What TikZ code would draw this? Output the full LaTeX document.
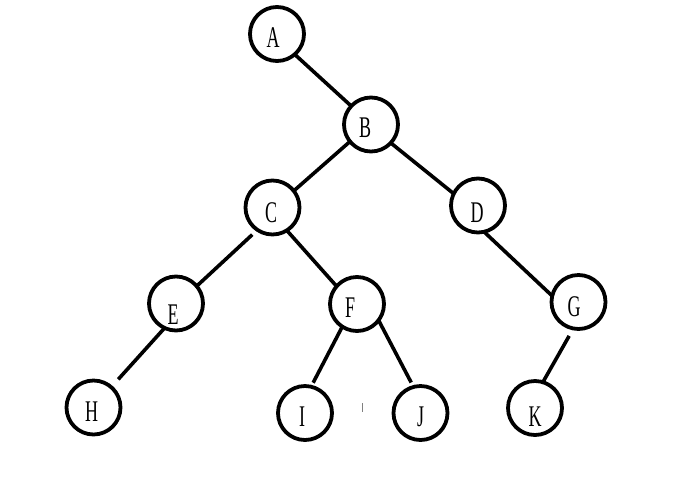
\documentclass[tikz,border=0pt]{standalone}
\usepackage{fontspec}
\setmainfont{Liberation Serif}
\newcommand{\lettr}[1]{\scalebox{0.6}[1]{\fontsize{30}{30}\selectfont #1}}
\tikzset{
  vertex/.style={circle, draw=black, line width=3.8pt, minimum size=54pt, inner sep=0pt, outer sep=0pt, fill=white},
  lbl/.style={inner sep=0pt, text=black},
  edge/.style={draw=black, line width=3.6pt}
}
\begin{document}
\begin{tikzpicture}[x=1pt, y=-1pt]
\useasboundingbox[fill=white] (0,0) rectangle (692,477);
% edges first (behind)
\coordinate (pA) at (277,34);
\coordinate (pB) at (371,124.5);
\coordinate (pC) at (272.5,207.5);
\coordinate (pD) at (478,205.5);
\coordinate (pE) at (176,303.5);
\coordinate (pF) at (357,304);
\coordinate (pG) at (578.5,302);
\coordinate (pH) at (93.5,407.5);
\coordinate (pI) at (305,413);
\coordinate (pJ) at (420.5,413);
\coordinate (pK) at (535,408);

\node[vertex, label={[lbl, xshift=-4pt, yshift=-4pt]center:\lettr{A}}] (A) at (pA) {};
\node[vertex, label={[lbl, xshift=-6pt, yshift=-3.5pt]center:\lettr{B}}] (B) at (pB) {};
\node[vertex, label={[lbl, xshift=-1.5pt, yshift=-5.5pt]center:\lettr{C}}] (C) at (pC) {};
\node[vertex, label={[lbl, xshift=-1pt, yshift=-7.5pt]center:\lettr{D}}] (D) at (pD) {};
\node[vertex, label={[lbl, xshift=-3pt, yshift=-11.5pt]center:\lettr{E}}] (E) at (pE) {};
\node[vertex, label={[lbl, xshift=-7pt, yshift=-4pt]center:\lettr{F}}] (F) at (pF) {};
\node[vertex, label={[lbl, xshift=-4.5pt, yshift=-5pt]center:\lettr{G}}] (G) at (pG) {};
\node[vertex, label={[lbl, xshift=-2pt, yshift=-4pt]center:\lettr{H}}] (H) at (pH) {};
\node[vertex, label={[lbl, xshift=-3pt, yshift=-4pt]center:\lettr{I}}] (I) at (pI) {};
\node[vertex, label={[lbl, xshift=0pt, yshift=-4pt]center:\lettr{J}}] (J) at (pJ) {};
\node[vertex, label={[lbl, xshift=0pt, yshift=-8.7pt]center:\lettr{K}}] (K) at (pK) {};

\draw[edge] (A.311) -- (B.137);
\draw[edge] (B.219) -- (C.38);
\draw[edge] (B.317) -- (D.154);
\draw[edge, shorten <=7pt] (C.236) -- (E.40);
\draw[edge] (C.302) -- (F.139);
\draw[edge] (D.283) -- (G.167);
\draw[edge, shorten >=10.5pt] (E.245) -- (H.49);
\draw[edge, shorten >=4.5pt] (F.237) -- (I.77);
\draw[edge, shorten >=5pt] (F.323) -- (J.105);
\draw[edge, shorten <=8.5pt] (G.259) -- (K.73);

\coordinate (tickTop) at (362.7,403);
\coordinate (tickBot) at (362.7,412);
\draw[gray, line width=1.2pt] (tickTop) -- (tickBot);
\end{tikzpicture}
\end{document}
